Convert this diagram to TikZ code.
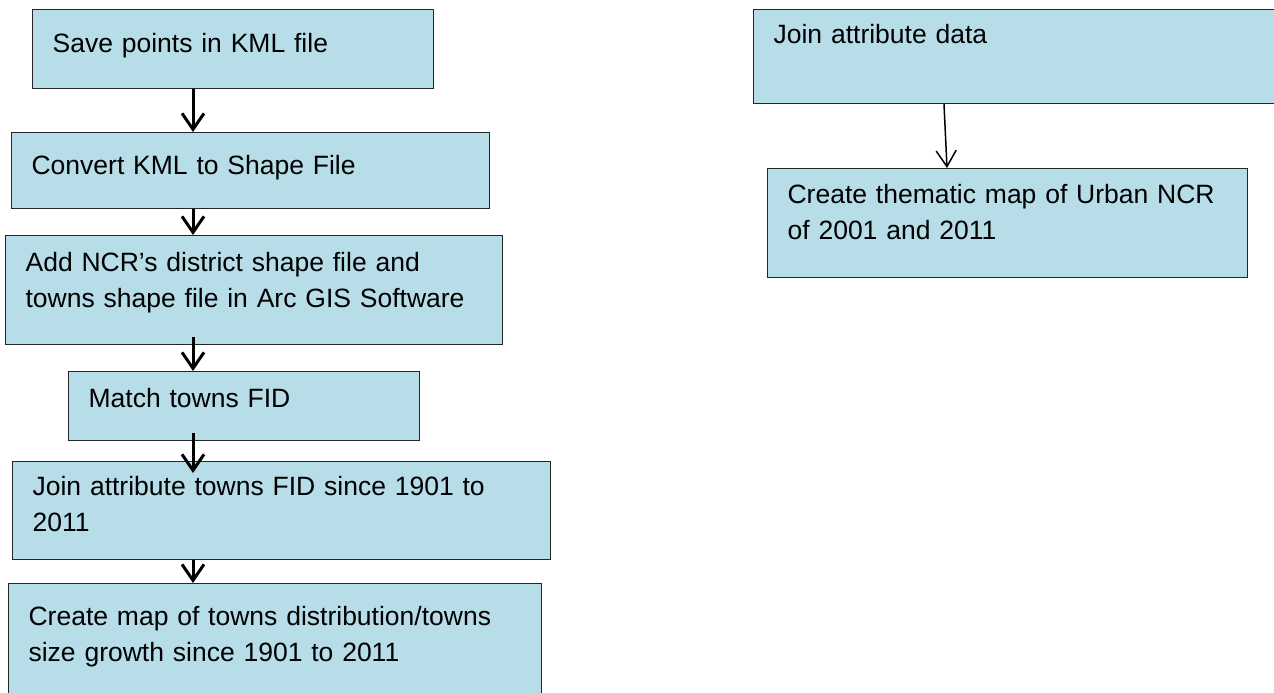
\documentclass[tikz,border=0pt]{standalone}
\usepackage{fontspec}
\setmainfont{Liberation Sans}
\usetikzlibrary{arrows.meta}

\definecolor{boxfill}{HTML}{B7DDE8}
\definecolor{boxline}{HTML}{262626}

\tikzset{
  stepbox/.style n args={3}{draw=boxline, fill=boxfill, line width=1.2pt,
    anchor=north west, inner xsep=20pt, inner ysep=0pt, align=left,
    font=\fontsize{26.5}{36}\selectfont,
    text width=#1, text height=#2, text depth=#3},
  flow/.style={line width=3pt, -{Straight Barb[length=16pt,width=22pt]}},
  thinflow/.style={line width=1.5pt, -{Straight Barb[length=16pt,width=20pt]}}
}

\begin{document}
\begin{tikzpicture}[x=1pt,y=-1pt]
    \useasboundingbox (0,0) rectangle (1274,693);
    \clip (0,0) rectangle (1274,693);
    \coordinate (spine) at (193,0);
    \coordinate (rspine) at (944,0);

    % left column
    \node[stepbox={361pt}{43pt}{36pt}] (save) at (32,9) {Save points in KML file};
    \node[stepbox={438pt}{42pt}{34pt}] (convert) at (11,132) {Convert KML to Shape File};
    \node[stepbox={457pt}{36pt}{73pt}] (add) at (5,235)
        {Add NCR’s district shape file and\\towns shape file in Arc GIS Software};
    \node[stepbox={311pt}{36pt}{33pt}] (match) at (68,371) {Match towns FID};
    \node[stepbox={498pt}{34pt}{64pt}] (jointowns) at (12,461)
        {Join attribute towns FID since 1901 to\\2011};
    \node[stepbox={493pt}{42pt}{88pt}] (mapsize) at (8,583)
        {Create map of towns distribution/towns\\size growth since 1901 to 2011};

    % right column
    \node[stepbox={507pt}{34pt}{60pt}] (joindata) at (753,9) {Join attribute data};
    \node[stepbox={440pt}{35pt}{74pt}] (thematic) at (767,168)
        {Create thematic map of Urban NCR\\of 2001 and 2011};

    \draw[flow] (save.south -| spine) -- (convert.north -| spine);
    \draw[flow] (convert.south -| spine) -- (add.north -| spine);
    \draw[flow] ([yshift=8pt]add.south -| spine) -- (match.north -| spine);
    \draw[flow] ([yshift=8pt]match.south -| spine) -- ([yshift=-12pt]jointowns.north -| spine);
    \draw[flow] (jointowns.south -| spine) -- (mapsize.north -| spine);

    \draw[thinflow] (joindata.south -| rspine) -- ([xshift=3pt]thematic.north -| rspine);
\end{tikzpicture}
\end{document}
